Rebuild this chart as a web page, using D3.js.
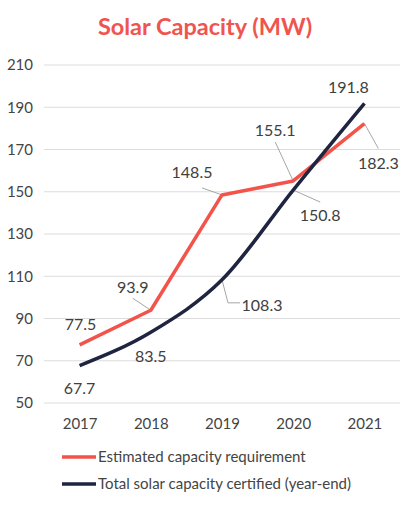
<!DOCTYPE html>
<html>
<head>
<meta charset="utf-8">
<script src="https://cdn.jsdelivr.net/npm/d3@7"></script>
<style>
  body { margin: 0; background: #fff; }
  text { font-family: Lato, "Open Sans", sans-serif; }
</style>
</head>
<body>
<svg id="chart" width="408" height="506"></svg>
<script>
var years = ["2017", "2018", "2019", "2020", "2021"];
var required = [77.5, 93.9, 148.5, 155.1, 182.3];
var certified = [67.7, 83.5, 108.3, 150.8, 191.8];
var yTicks = [50, 70, 90, 110, 130, 150, 170, 190, 210];
var seriesNames = ["Estimated capacity requirement", "Total solar capacity certified (year-end)"];
var seriesColors = ["#f2544b", "#1f2440"];

// label centre offsets from the point; lead = leader start offset from label centre
var reqLabels = [
  { dx: 1, dy: -21 },
  { dx: -18, dy: -23, lead: [0, 11] },
  { dx: -30, dy: -23, lead: [10, 16] },
  { dx: -18, dy: -51, lead: [0, 12] },
  { dx: 14, dy: 40, lead: [0, -15] }
];
var certLabels = [
  { dx: 0, dy: 23 },
  { dx: 0, dy: 24 },
  { dx: 40, dy: 26, lead: [-22, -3], elbow: true },
  { dx: 27, dy: 25, lead: [0, -13] },
  { dx: -16, dy: -16 }
];

var svg = d3.select("#chart");

var x = d3.scalePoint().domain(years).range([44, 400]).padding(0.5);
var y = d3.scaleLinear().domain([50, 210]).range([403, 65]);

svg.append("text")
  .attr("x", 205).attr("y", 35)
  .attr("text-anchor", "middle")
  .attr("font-size", 23.5).attr("font-weight", "bold")
  .attr("fill", "#f0544f")
  .text("Solar Capacity (MW)");

// gridlines
svg.append("g").selectAll("line")
  .data(yTicks).join("line")
  .attr("x1", 44).attr("x2", 400)
  .attr("y1", d => y(d)).attr("y2", d => y(d))
  .attr("stroke", "#dcdcdc").attr("stroke-width", 1);

var yAxis = svg.append("g")
  .attr("transform", "translate(33,0)")
  .call(d3.axisLeft(y).tickValues(yTicks).tickSize(0).tickPadding(0));
yAxis.select(".domain").remove();
yAxis.selectAll("text").attr("font-size", 15).attr("fill", "#444")
  .style("font-family", "Lato, sans-serif");

var xAxis = svg.append("g")
  .attr("transform", "translate(0,403)")
  .call(d3.axisBottom(x).tickSize(0).tickPadding(15));
xAxis.select(".domain").remove();
xAxis.selectAll("text").attr("font-size", 15).attr("fill", "#444")
  .style("font-family", "Lato, sans-serif");

var lineReq = d3.line()
  .x((d, i) => x(years[i]))
  .y(d => y(d));
var lineCert = d3.line()
  .x((d, i) => x(years[i]))
  .y(d => y(d))
  .curve(d3.curveMonotoneX);

function drawLabels(values, cfg) {
  var g = svg.append("g");
  values.forEach(function(v, i) {
    var px = x(years[i]), py = y(v);
    var c = cfg[i];
    var lx = px + c.dx, ly = py + c.dy;
    if (c.lead) {
      var sx = lx + c.lead[0], sy = ly + c.lead[1];
      var d = c.elbow
        ? "M" + px + "," + py + "L" + (px + 6) + "," + sy + "L" + sx + "," + sy
        : "M" + px + "," + py + "L" + sx + "," + sy;
      g.append("path")
        .attr("d", d)
        .attr("fill", "none").attr("stroke", "#a6a6a6").attr("stroke-width", 1);
    }
    g.append("text")
      .attr("x", lx).attr("y", ly)
      .attr("dy", "0.35em")
      .attr("text-anchor", "middle")
      .attr("font-size", 16).attr("fill", "#404040")
      .text(v.toFixed(1));
  });
}

drawLabels(required, reqLabels);
drawLabels(certified, certLabels);

svg.append("path").datum(required)
  .attr("d", lineReq)
  .attr("fill", "none").attr("stroke", seriesColors[0])
  .attr("stroke-width", 3.5).attr("stroke-linejoin", "round");
svg.append("path").datum(certified)
  .attr("d", lineCert)
  .attr("fill", "none").attr("stroke", seriesColors[1])
  .attr("stroke-width", 3.5).attr("stroke-linejoin", "round");

// legend
var legend = svg.append("g").selectAll("g")
  .data(seriesNames).join("g")
  .attr("transform", (d, i) => "translate(62," + (457 + i * 27) + ")");
legend.append("line")
  .attr("x1", 0).attr("x2", 34).attr("y1", 0).attr("y2", 0)
  .attr("stroke", (d, i) => seriesColors[i]).attr("stroke-width", 3.5);
legend.append("text")
  .attr("x", 36).attr("y", 5)
  .attr("font-size", 15).attr("fill", "#444")
  .text(d => d);
</script>
</body>
</html>
